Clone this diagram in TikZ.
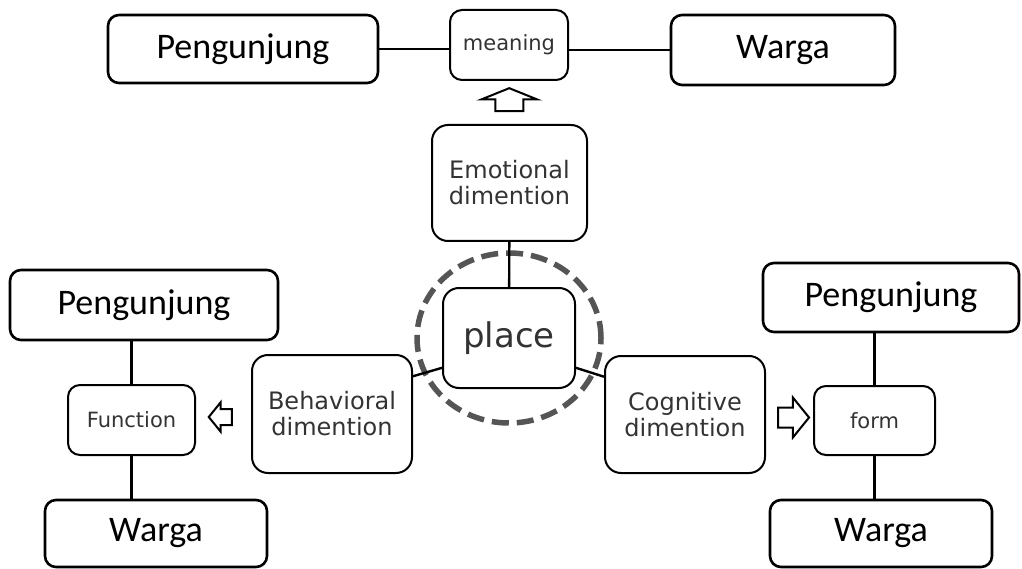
\documentclass[tikz,border=0pt]{standalone}
\usepackage{fontspec}
\setmainfont{Carlito}
\newfontfamily\dimfont{DejaVu Sans}
\usetikzlibrary{shapes.arrows,calc}

\definecolor{dimgray}{HTML}{333333}
\definecolor{ringgray}{HTML}{555555}

\tikzstyle{gS}=[draw,line width=2.6pt,rounded corners=11pt,inner sep=0pt,align=center,font=\fontsize{36}{40}\selectfont]
\tikzstyle{dS}=[draw,line width=2pt,rounded corners=16pt,inner sep=0pt,align=center,text=dimgray,font=\dimfont\fontsize{24}{26}\selectfont]
\tikzstyle{sS}=[draw,line width=2pt,rounded corners=12pt,inner sep=0pt,align=center,text=dimgray,font=\dimfont\fontsize{21}{24}\selectfont]
\tikzstyle{lS}=[line width=2.4pt]
\tikzstyle{aS}=[single arrow,draw,line width=2pt,fill=white,inner xsep=0pt,text width=0pt]

\begin{document}
\begin{tikzpicture}[x=1pt,y=-1pt]
                \useasboundingbox (0,0) rectangle (1022,569);
                % top row
                \draw (243,49) node[gS,minimum width=270pt,minimum height=68pt] (pT) {Pengunjung};
                \draw (509,45) node[sS,minimum width=118pt,minimum height=70pt] (mean) {meaning};
                \draw (783,50) node[gS,minimum width=224pt,minimum height=70pt] (wT) {Warga};
                % dimensions
                \draw (509.5,183) node[dS,minimum width=155pt,minimum height=116pt] (emo) {Emotional\\dimention};
                \draw (509,338) node[dS,minimum width=132pt,minimum height=100pt,font=\dimfont\fontsize{34}{38}\selectfont] (place) {place};
                \draw (332,414) node[dS,minimum width=160pt,minimum height=118pt] (beh) {Behavioral\\dimention};
                \draw (685,414.5) node[dS,minimum width=160pt,minimum height=117pt] (cog) {Cognitive\\dimention};
                % left column
                \draw (144,305) node[gS,minimum width=268pt,minimum height=70pt] (pL) {Pengunjung};
                \draw (131.5,420) node[sS,minimum width=127pt,minimum height=70pt] (fun) {Function};
                \draw (156,533.5) node[gS,minimum width=222pt,minimum height=67pt] (wL) {Warga};
                % right column
                \draw (891,297.5) node[gS,minimum width=256pt,minimum height=69pt] (pR) {Pengunjung};
                \draw (874.5,420.5) node[sS,minimum width=121pt,minimum height=69pt] (form) {form};
                \draw (881,533.5) node[gS,minimum width=222pt,minimum height=67pt] (wR) {Warga};
                % ring round place
                \draw[ringgray,line width=5.5pt,dash pattern=on 17pt off 8pt] (place.center) ellipse (92pt and 85pt);
                \path
                    (pT) edge[lS] (pT -| mean.west)
                    (mean.east |- wT) edge[lS] (wT)
                    (emo) edge[lS] (place)
                    (place.204) edge[lS] (beh.25)
                    (place.-24) edge[lS] (cog.155)
                    (pL.south -| fun.north) edge[lS] (fun)
                    (fun) edge[lS] (fun |- wL.north)
                    (pR.south -| form.north) edge[lS] (form)
                    (form) edge[lS] (form |- wR.north)
                ;
                % hollow arrows
                \node[aS,shape border rotate=90,inner xsep=13pt,inner ysep=0pt,minimum height=23pt,single arrow head extend=14pt,single arrow tip angle=136] (arrU) at ($(emo.north)!0.5!(mean.south)$) {};
                \node[aS,shape border rotate=180,inner ysep=7pt,minimum height=23pt,single arrow head extend=6.5pt,single arrow tip angle=102] (arrL) at ($(beh.west)!0.5!(fun.east)$) {};
                \node[aS,inner ysep=9pt,minimum height=31pt,single arrow head extend=10pt,single arrow tip angle=102] (arrR) at ($(cog.east)!0.5!(form.west)$) {};
        \end{tikzpicture}
\end{document}
